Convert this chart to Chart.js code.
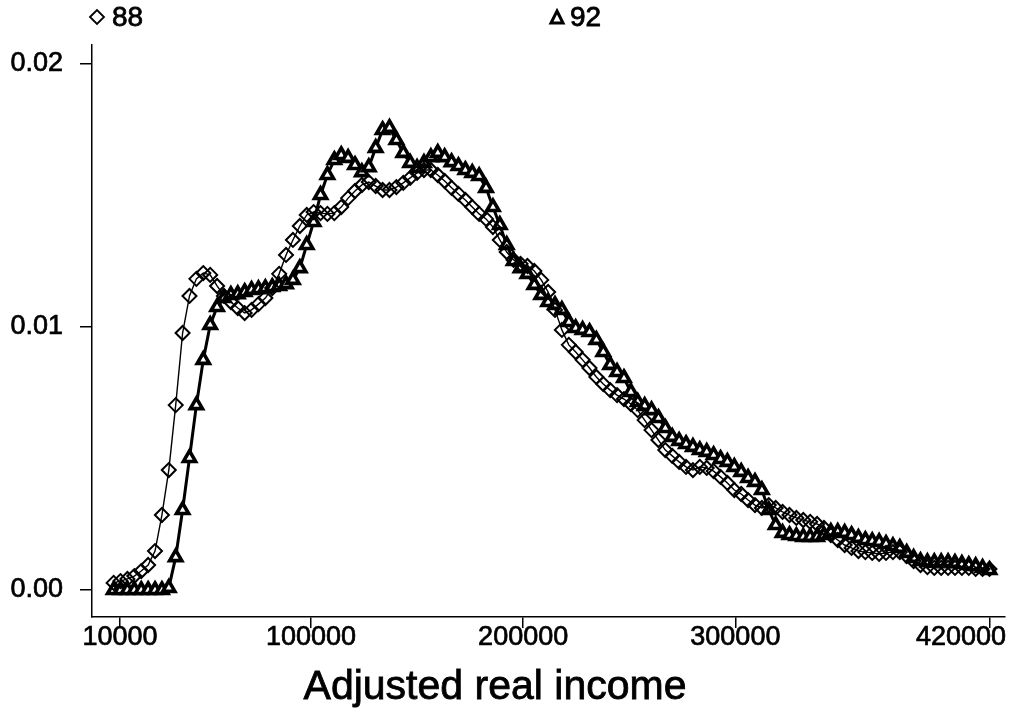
<!DOCTYPE html>
<html><head><meta charset="utf-8">
<script src="https://cdn.jsdelivr.net/npm/chart.js@4/dist/chart.umd.min.js"></script>
<style>html,body{margin:0;padding:0;background:#fff;}#wrap{width:1016px;height:713px;}</style>
</head><body><div id="wrap"><canvas id="c" width="1016" height="713"></canvas></div>
<script>
const incomes = [
7000,10250,13500,16750,20000,23250,26500,29750,33000,36250,
39500,42750,46000,49250,52500,55750,59000,62250,65500,68750,
72000,75250,78500,81750,85000,88250,91500,94750,98000,101250,
104500,107750,111000,114250,117500,120750,124000,127250,130500,133750,
137000,140250,143500,146750,150000,153250,156500,159750,163000,166250,
169500,172750,176000,179250,182500,185750,189000,192250,195500,198750,
202000,205250,208500,211750,215000,218250,221500,224750,228000,231250,
234500,237750,241000,244250,247500,250750,254000,257250,260500,263750,
267000,270250,273500,276750,280000,283250,286500,289750,293000,296250,
299500,302750,306000,309250,312500,315750,319000,322250,325500,328750,
332000,335250,338500,341750,345000,348250,351500,354750,358000,361250,
364500,367750,371000,374250,377500,380750,384000,387250,390500,393750,
397000,400250,403500,406750,410000,413250,416500,419750];

const density88 = [
0.00027,0.00034,0.00042,0.00053,0.00072,0.00095,0.00148,0.00285,0.00456,0.00703,
0.00977,0.01118,0.01183,0.01205,0.01198,0.01156,0.01118,0.01095,0.01072,0.01053,
0.01065,0.01087,0.01110,0.01148,0.01202,0.01274,0.01331,0.01384,0.01426,0.01437,
0.01433,0.01430,0.01433,0.01456,0.01490,0.01517,0.01540,0.01551,0.01536,0.01521,
0.01521,0.01532,0.01548,0.01567,0.01586,0.01597,0.01597,0.01578,0.01555,0.01529,
0.01506,0.01483,0.01456,0.01430,0.01411,0.01380,0.01331,0.01285,0.01255,0.01240,
0.01232,0.01213,0.01179,0.01133,0.01065,0.00989,0.00932,0.00905,0.00875,0.00844,
0.00810,0.00783,0.00760,0.00741,0.00726,0.00707,0.00684,0.00646,0.00608,0.00570,
0.00532,0.00510,0.00487,0.00468,0.00456,0.00468,0.00464,0.00452,0.00430,0.00407,
0.00380,0.00365,0.00342,0.00323,0.00312,0.00323,0.00312,0.00297,0.00285,0.00274,
0.00266,0.00259,0.00251,0.00236,0.00209,0.00190,0.00171,0.00160,0.00148,0.00144,
0.00141,0.00137,0.00141,0.00144,0.00144,0.00129,0.00110,0.00095,0.00087,0.00084,
0.00084,0.00084,0.00084,0.00084,0.00084,0.00080,0.00080,0.00080];

const density92 = [
0,0,0,0,0,0,0,0,0.00008,0.00125,
0.00304,0.00502,0.00703,0.00875,0.01008,0.01076,0.01110,0.01122,0.01125,0.01133,
0.01141,0.01144,0.01148,0.01152,0.01156,0.01163,0.01179,0.01224,0.01312,0.01399,
0.01502,0.01578,0.01635,0.01654,0.01643,0.01616,0.01589,0.01608,0.01681,0.01749,
0.01757,0.01711,0.01662,0.01624,0.01605,0.01624,0.01646,0.01662,0.01646,0.01627,
0.01612,0.01597,0.01586,0.01574,0.01529,0.01456,0.01388,0.01312,0.01251,0.01224,
0.01202,0.01160,0.01122,0.01095,0.01084,0.01065,0.01019,0.00996,0.00989,0.00981,
0.00951,0.00905,0.00856,0.00829,0.00806,0.00753,0.00715,0.00700,0.00684,0.00654,
0.00616,0.00582,0.00567,0.00555,0.00544,0.00532,0.00525,0.00513,0.00498,0.00487,
0.00468,0.00449,0.00426,0.00411,0.00380,0.00304,0.00247,0.00217,0.00209,0.00205,
0.00202,0.00202,0.00202,0.00209,0.00221,0.00221,0.00217,0.00209,0.00198,0.00190,
0.00186,0.00183,0.00175,0.00167,0.00160,0.00141,0.00122,0.00110,0.00106,0.00106,
0.00106,0.00106,0.00103,0.00099,0.00095,0.00091,0.00084,0.00076];

const seriesLabels = ['88', '92'];
const xTickValues = [10000, 100000, 200000, 300000, 420000];
const yTickValues = [0, 0.01, 0.02];
const axisTitle = 'Adjusted real income';

const FONT = '"Liberation Sans", Arial, Helvetica, sans-serif';

function pts(ys) { return incomes.map((x, i) => ({x: x, y: ys[i]})); }

function heavyText(ctx, t, x, y) {
  ctx.fillText(t, x, y);
  ctx.strokeText(t, x, y);
}

const textPlugin = {
  id: 'textPlugin',
  afterDraw(chart) {
    const ctx = chart.ctx;
    const xs = chart.scales.x;
    ctx.save();
    ctx.fillStyle = '#000';
    ctx.strokeStyle = '#000';
    ctx.lineWidth = 0.7;
    // x tick labels
    ctx.font = '27px ' + FONT;
    ctx.textBaseline = 'top';
    ctx.textAlign = 'left';
    xTickValues.forEach(v => {
      const t = String(v);
      const w = ctx.measureText(t).width;
      let left = xs.getPixelForValue(v) - w / 2;
      if (left + w > 1006) left = 1006 - w;
      heavyText(ctx, t, left, 624);
    });
    // axis title
    ctx.font = '41px ' + FONT;
    ctx.textAlign = 'center';
    ctx.textBaseline = 'middle';
    ctx.lineWidth = 0.8;
    heavyText(ctx, axisTitle, 495, 688);
    // legend
    ctx.font = '28px ' + FONT;
    ctx.textAlign = 'left';
    ctx.textBaseline = 'middle';
    ctx.lineWidth = 1.8;
    ctx.beginPath();
    ctx.moveTo(90, 17); ctx.lineTo(97, 10); ctx.lineTo(104, 17); ctx.lineTo(97, 24); ctx.closePath();
    ctx.stroke();
    ctx.lineWidth = 0.8;
    heavyText(ctx, seriesLabels[0], 112, 18);
    ctx.beginPath();
    ctx.moveTo(557, 11); ctx.lineTo(563, 23); ctx.lineTo(551, 23); ctx.closePath();
    ctx.lineWidth = 3;
    ctx.fillStyle = '#fff';
    ctx.fill(); ctx.stroke();
    ctx.fillStyle = '#000';
    ctx.lineWidth = 0.8;
    heavyText(ctx, seriesLabels[1], 570, 18);
    ctx.restore();
  }
};

new Chart(document.getElementById('c'), {
  type: 'line',
  data: {
    datasets: [
      {
        label: seriesLabels[0],
        data: pts(density88),
        borderColor: '#000',
        borderWidth: 1.4,
        pointStyle: 'rectRot',
        pointRadius: 7,
        pointBorderWidth: 2,
        pointBorderColor: '#000',
        pointBackgroundColor: 'rgba(0,0,0,0)',
        tension: 0,
        fill: false
      },
      {
        label: seriesLabels[1],
        data: pts(density92),
        borderColor: '#000',
        borderWidth: 3,
        pointStyle: 'triangle',
        pointRadius: 7,
        pointBorderWidth: 3.6,
        pointBorderColor: '#000',
        pointBackgroundColor: '#fff',
        tension: 0,
        fill: false
      }
    ]
  },
  options: {
    responsive: false,
    animation: false,
    devicePixelRatio: 1,
    layout: {padding: {top: 45, right: 11, left: 0, bottom: 0}},
    plugins: {legend: {display: false}, tooltip: {enabled: false}, title: {display: false}},
    events: [],
    scales: {
      x: {
        type: 'linear',
        min: -3195,
        max: 427069,
        border: {display: true, color: '#000', width: 1.5},
        grid: {display: true, drawOnChartArea: false, drawTicks: true, tickLength: 11, color: '#000', lineWidth: 1.5},
        ticks: {display: false},
        afterBuildTicks: s => { s.ticks = xTickValues.map(v => ({value: v})); },
        afterFit: s => { s.height = 96; }
      },
      y: {
        type: 'linear',
        min: -0.001027,
        max: 0.020722,
        border: {display: true, color: '#000', width: 1.5},
        grid: {display: true, drawOnChartArea: false, drawTicks: true, tickLength: 12, color: '#000', lineWidth: 1.5},
        ticks: {
          color: '#000',
          font: {family: FONT, size: 27},
          padding: 17,
          textStrokeColor: '#000',
          textStrokeWidth: 0.7,
          callback: v => Number(v).toFixed(2)
        },
        afterBuildTicks: s => { s.ticks = yTickValues.map(v => ({value: v})); },
        afterFit: s => { s.width = 92; }
      }
    }
  },
  plugins: [textPlugin]
});
</script>
</body></html>
